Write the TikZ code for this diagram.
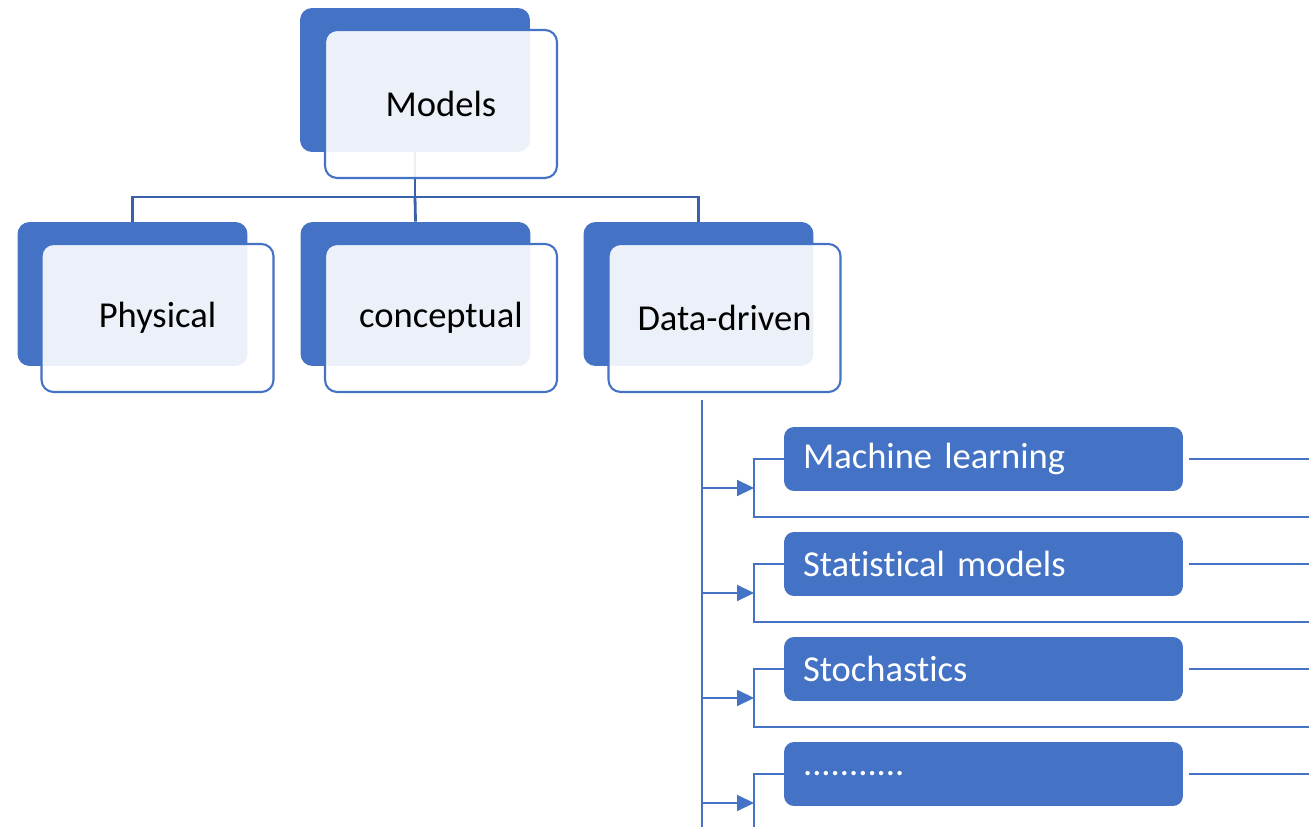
\documentclass[tikz,border=0pt]{standalone}
\usepackage{fontspec}
\setmainfont{Carlito}[Ligatures=NoCommon, WordSpace=0.75]
\usepackage{xcolor}
\usetikzlibrary{arrows.meta}
\definecolor{accent}{HTML}{4472C4}
\definecolor{linkblue}{HTML}{3A62A8}
\tikzstyle{backbox} = [rectangle, rounded corners=0.24cm, minimum width=4.6cm, minimum height=2.88cm, fill=accent]
\tikzstyle{frontbox} = [rectangle, rounded corners=0.24cm, minimum width=4.64cm, minimum height=2.96cm, draw=accent, line width=1.2pt, fill=white, fill opacity=0.9, text opacity=1, font=\fontsize{20.8}{24}\selectfont]
\tikzstyle{item} = [rectangle, rounded corners=0.2cm, minimum height=1.28cm, text width=7.22cm, inner xsep=0.38cm, align=left, fill=accent, text=white, font=\fontsize{20.8}{24}\selectfont]
\tikzstyle{link} = [linkblue, line width=1.6pt]
\tikzstyle{bracket} = [accent, line width=1.2pt]
\tikzstyle{arrow} = [accent, line width=1.2pt, -{Triangle[length=0.34cm,width=0.32cm]}]

\begin{document}
\begin{tikzpicture}[x=0.02cm, y=-0.02cm]
\useasboundingbox (0,0) rectangle (1309,827);
% back panels
\node (modelsback) [backbox] at (415,80) {};
\node (physback) [backbox] at (132.5,294) {};
\node (concback) [backbox] at (415.5,294) {};
\node (databack) [backbox] at (698.5,294) {};
% tree links
\coordinate (split) at (415,197);
\draw [link] (modelsback.south) -- (split);
\draw [link] (split) -| (physback.north);
\draw [link] (split) -| (databack.north);
\draw [link] (split) -- (concback.north);
% front panels
\node (models) [frontbox] at (441,104) {Models};
\node (physical) [frontbox] at (157.5,318) {Physical};
\node (conceptual) [frontbox] at (441,318) {conceptual};
\node (datadriven) [frontbox] at (724.5,318) {Data-driven};
% data-driven methods
\node (ml) [item] at (983.5,459) {Machine learning};
\node (stat) [item] at (983.5,564) {Statistical models};
\node (stoch) [item] at (983.5,669) {Stochastics};
\node (more) [item] at (983.5,774) {...........};
\coordinate (trunktop) at (702,400);
\coordinate (trunkend) at (702,827);
\draw [bracket] (trunktop) -- (trunkend);
\foreach \n/\y [evaluate=\y as \ya using \y+29, evaluate=\y as \yb using \y+58] in {ml/459, stat/564, stoch/669, more/774} {
  \coordinate (\n-in) at (754,\ya);
  \coordinate (\n-foot) at (1309,\yb);
  \coordinate (\n-out) at (1309,\y);
  \draw [bracket] (\n.west) -- ++(-30,0) |- (\n-foot);
  \draw [bracket, shorten <=3pt] (\n.east) -- (\n-out);
  \draw [arrow] (trunktop |- \n-in) -- (\n-in);
}
\end{tikzpicture}
\end{document}
